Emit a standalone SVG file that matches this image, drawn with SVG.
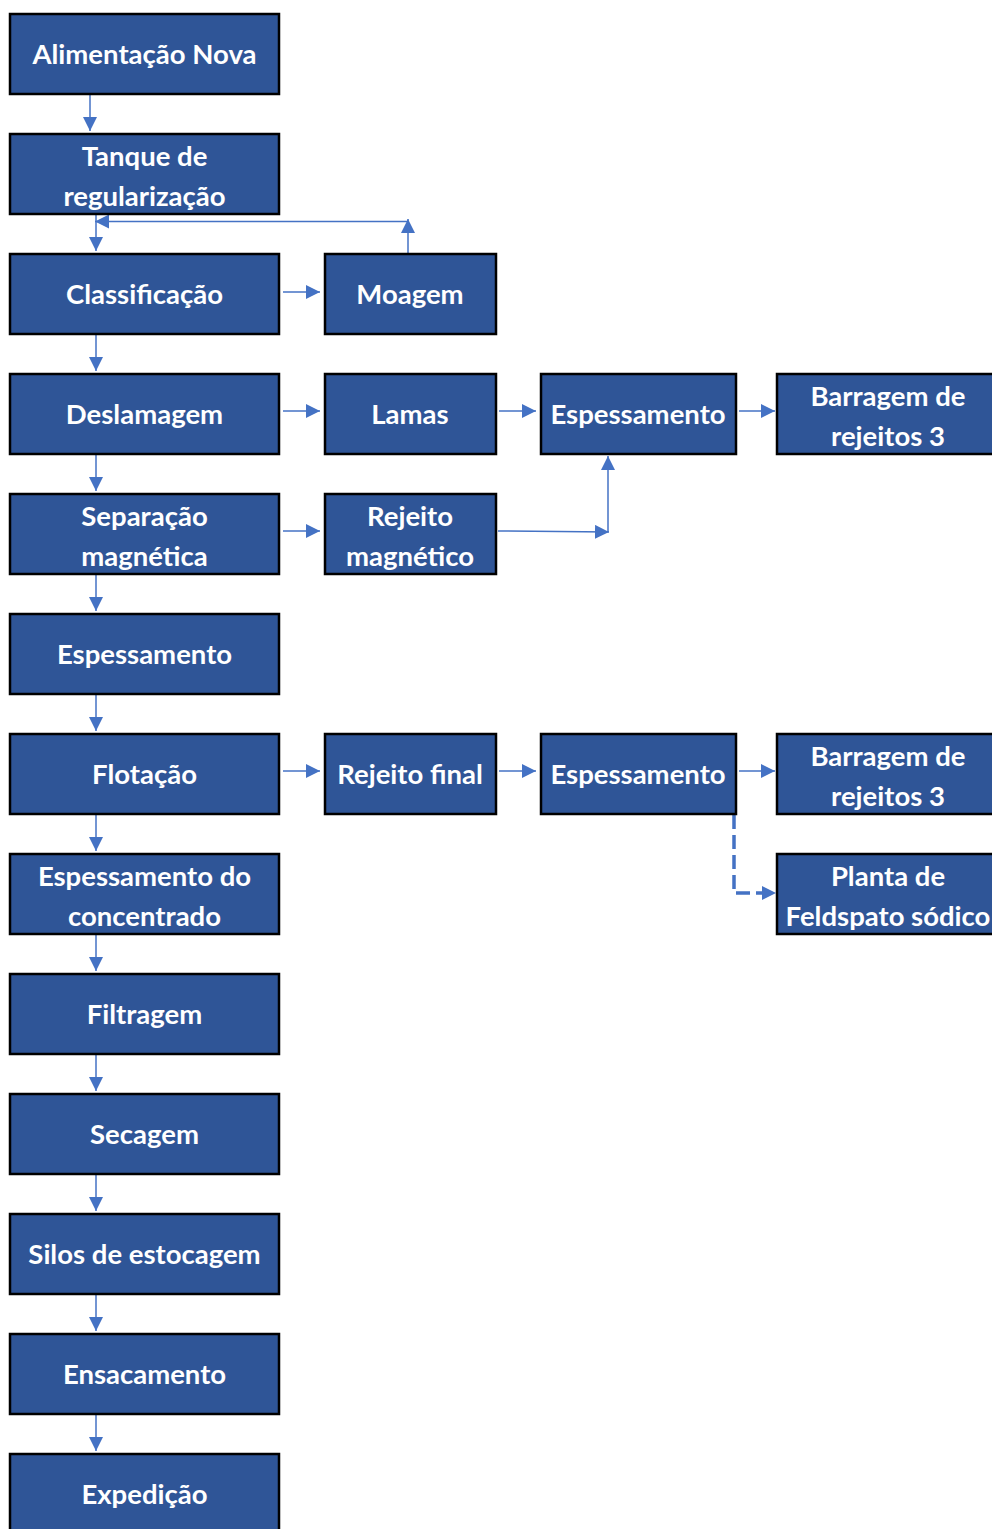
<svg xmlns="http://www.w3.org/2000/svg" width="992" height="1529" viewBox="0 0 992 1529">
<defs>
<style>
.box{fill:#2F5597;stroke:#000;stroke-width:2.5}
.t{fill:#fff;font-family:Lato,"Open Sans",sans-serif;font-weight:bold;font-size:27.5px;text-anchor:middle;dominant-baseline:central}
.c{stroke:#4472C4;stroke-width:1.5;fill:none}
.d{stroke:#4472C4;stroke-width:3.5;fill:none;stroke-dasharray:14,6}
</style>
<marker id="ah2" viewBox="0 0 10 10" refX="10" refY="5" markerWidth="14" markerHeight="14" markerUnits="userSpaceOnUse" orient="auto"><path d="M0,0 L10,5 L0,10 Z" fill="#4472C4"/></marker>
</defs>
<g id="connectors">
<line class="c" x1="90" y1="95" x2="90" y2="131" marker-end="url(#ah2)"/>
<line class="c" x1="96" y1="215" x2="96" y2="251" marker-end="url(#ah2)"/>
<polyline class="c" points="408,254 408,219" marker-end="url(#ah2)"/>
<line class="c" x1="408" y1="221.5" x2="95" y2="221.5" marker-end="url(#ah2)"/>
<line class="c" x1="283" y1="292" x2="320" y2="292" marker-end="url(#ah2)"/>
<line class="c" x1="96" y1="335" x2="96" y2="371" marker-end="url(#ah2)"/>
<line class="c" x1="283" y1="411" x2="320" y2="411" marker-end="url(#ah2)"/>
<line class="c" x1="499" y1="411" x2="536" y2="411" marker-end="url(#ah2)"/>
<line class="c" x1="739" y1="411" x2="775" y2="411" marker-end="url(#ah2)"/>
<line class="c" x1="96" y1="455" x2="96" y2="491" marker-end="url(#ah2)"/>
<line class="c" x1="283" y1="531" x2="320" y2="531" marker-end="url(#ah2)"/>
<line class="c" x1="498" y1="531" x2="609" y2="532" marker-end="url(#ah2)"/>
<line class="c" x1="608" y1="532" x2="608" y2="456" marker-end="url(#ah2)"/>
<line class="c" x1="96" y1="575" x2="96" y2="611" marker-end="url(#ah2)"/>
<line class="c" x1="96" y1="695" x2="96" y2="731" marker-end="url(#ah2)"/>
<line class="c" x1="283" y1="771" x2="320" y2="771" marker-end="url(#ah2)"/>
<line class="c" x1="499" y1="771" x2="536" y2="771" marker-end="url(#ah2)"/>
<line class="c" x1="739" y1="771" x2="775" y2="771" marker-end="url(#ah2)"/>
<polyline class="d" points="734,815 734,893 776,893" marker-end="url(#ah2)"/>
<line class="c" x1="96" y1="815" x2="96" y2="851" marker-end="url(#ah2)"/>
<line class="c" x1="96" y1="935" x2="96" y2="971" marker-end="url(#ah2)"/>
<line class="c" x1="96" y1="1055" x2="96" y2="1091" marker-end="url(#ah2)"/>
<line class="c" x1="96" y1="1175" x2="96" y2="1211" marker-end="url(#ah2)"/>
<line class="c" x1="96" y1="1295" x2="96" y2="1331" marker-end="url(#ah2)"/>
<line class="c" x1="96" y1="1415" x2="96" y2="1451" marker-end="url(#ah2)"/>
</g>
<g id="n1"><rect class="box" x="10" y="14" width="269" height="80"/><text class="t" x="144.5" y="53">Alimentação Nova</text></g>
<g id="n2"><rect class="box" x="10" y="134" width="269" height="80"/><text class="t" x="144.5" y="155">Tanque de</text><text class="t" x="144.5" y="195">regularização</text></g>
<g id="n3"><rect class="box" x="10" y="254" width="269" height="80"/><text class="t" x="144.5" y="293">Classificação</text></g>
<g id="n4"><rect class="box" x="325" y="254" width="171" height="80"/><text class="t" x="410" y="293">Moagem</text></g>
<g id="n5"><rect class="box" x="10" y="374" width="269" height="80"/><text class="t" x="144.5" y="413">Deslamagem</text></g>
<g id="n6"><rect class="box" x="325" y="374" width="171" height="80"/><text class="t" x="410" y="413">Lamas</text></g>
<g id="n7"><rect class="box" x="541" y="374" width="195" height="80"/><text class="t" x="638" y="413">Espessamento</text></g>
<g id="n8"><rect class="box" x="777" y="374" width="220" height="80"/><text class="t" x="888" y="395">Barragem de</text><text class="t" x="888" y="435">rejeitos 3</text></g>
<g id="n9"><rect class="box" x="10" y="494" width="269" height="80"/><text class="t" x="144.5" y="515">Separação</text><text class="t" x="144.5" y="555">magnética</text></g>
<g id="n10"><rect class="box" x="325" y="494" width="171" height="80"/><text class="t" x="410" y="515">Rejeito</text><text class="t" x="410" y="555">magnético</text></g>
<g id="n11"><rect class="box" x="10" y="614" width="269" height="80"/><text class="t" x="144.5" y="653">Espessamento</text></g>
<g id="n12"><rect class="box" x="10" y="734" width="269" height="80"/><text class="t" x="144.5" y="773">Flotação</text></g>
<g id="n13"><rect class="box" x="325" y="734" width="171" height="80"/><text class="t" x="410" y="773">Rejeito final</text></g>
<g id="n14"><rect class="box" x="541" y="734" width="195" height="80"/><text class="t" x="638" y="773">Espessamento</text></g>
<g id="n15"><rect class="box" x="777" y="734" width="220" height="80"/><text class="t" x="888" y="755">Barragem de</text><text class="t" x="888" y="795">rejeitos 3</text></g>
<g id="n16"><rect class="box" x="10" y="854" width="269" height="80"/><text class="t" x="144.5" y="875">Espessamento do</text><text class="t" x="144.5" y="915">concentrado</text></g>
<g id="n17"><rect class="box" x="777" y="854" width="220" height="80"/><text class="t" x="888" y="875">Planta de</text><text class="t" x="888" y="915">Feldspato sódico</text></g>
<g id="n18"><rect class="box" x="10" y="974" width="269" height="80"/><text class="t" x="144.5" y="1013">Filtragem</text></g>
<g id="n19"><rect class="box" x="10" y="1094" width="269" height="80"/><text class="t" x="144.5" y="1133">Secagem</text></g>
<g id="n20"><rect class="box" x="10" y="1214" width="269" height="80"/><text class="t" x="144.5" y="1253">Silos de estocagem</text></g>
<g id="n21"><rect class="box" x="10" y="1334" width="269" height="80"/><text class="t" x="144.5" y="1373">Ensacamento</text></g>
<g id="n22"><rect class="box" x="10" y="1454" width="269" height="90"/><text class="t" x="144.5" y="1493">Expedição</text></g>
</svg>
